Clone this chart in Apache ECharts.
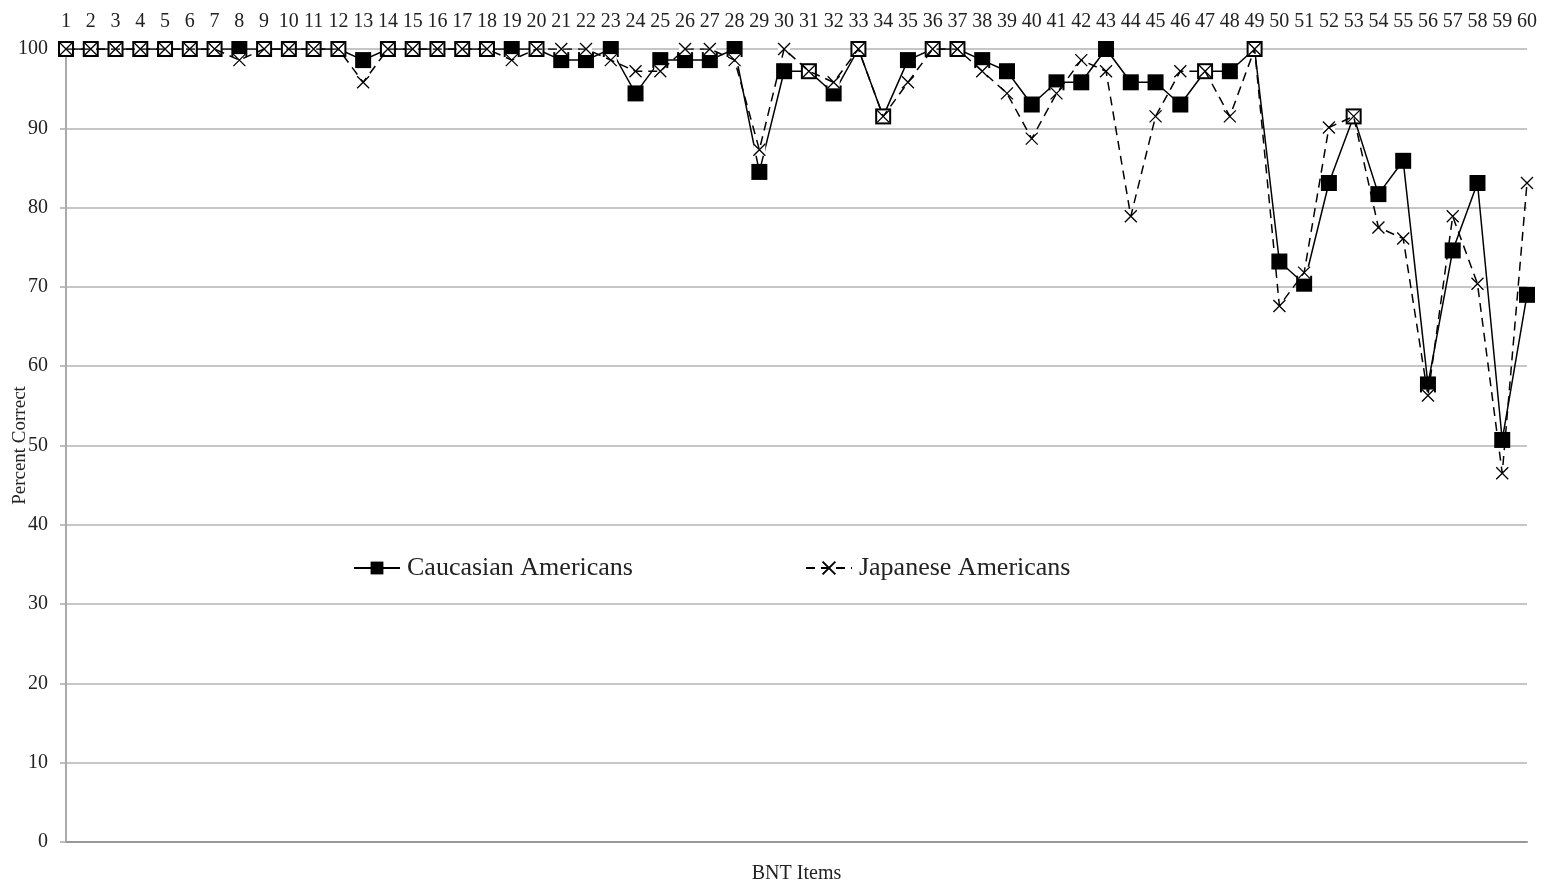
<!DOCTYPE html>
<html>
<head>
<meta charset="utf-8">
<title>BNT Items</title>
<script src="https://cdn.jsdelivr.net/npm/echarts@6/dist/echarts.min.js"></script>
<style>
  html, body { margin: 0; padding: 0; background: #fff; }
  #chart { width: 1550px; height: 888px; }
</style>
</head>
<body>
<div id="chart"></div>
<script>
// BNT items 1..60
const items = Array.from({ length: 60 }, (_, i) => String(i + 1));

// percent correct
const caucasian = [
  100, 100, 100, 100, 100, 100, 100, 100, 100, 100,
  100, 100, 98.6, 100, 100, 100, 100, 100, 100, 100,
  98.6, 98.6, 100, 94.4, 98.6, 98.6, 98.6, 100, 84.5, 97.2,
  97.2, 94.4, 100, 91.5, 98.6, 100, 100, 98.6, 97.2, 93.0,
  95.8, 95.8, 100, 95.8, 95.8, 93.0, 97.2, 97.2, 100, 73.2,
  70.4, 83.1, 91.5, 81.7, 85.9, 57.7, 74.6, 83.1, 50.7, 69.0
];
const japanese = [
  100, 100, 100, 100, 100, 100, 100, 98.6, 100, 100,
  100, 100, 95.8, 100, 100, 100, 100, 100, 98.6, 100,
  100, 100, 98.6, 97.2, 97.2, 100, 100, 98.6, 87.3, 100,
  97.2, 95.8, 100, 91.5, 95.8, 100, 100, 97.2, 94.4, 88.7,
  94.4, 98.6, 97.2, 78.9, 91.5, 97.2, 97.2, 91.5, 100, 67.6,
  71.8, 90.1, 91.5, 77.5, 76.1, 56.3, 78.9, 70.4, 46.5, 83.1
];

const FONT = 'Liberation Serif';
const crossPath = 'path://M0,0L10,10M10,0L0,10';

const myChart = echarts.init(document.getElementById('chart'));

const option = {
  backgroundColor: '#fff',
  animation: false,
  textStyle: { fontFamily: FONT, color: '#222' },
  grid: { left: 66, right: 23, top: 49, bottom: 46, containLabel: false, outerBoundsMode: 'none' },
  legend: {
    data: ['Caucasian Americans', 'Japanese Americans'],
    left: 348,
    top: 550,
    itemWidth: 46,
    itemHeight: 16,
    itemGap: 172,
    textStyle: { fontFamily: FONT, fontSize: 26, color: '#222', padding: [0, 0, 0, 2] }
  },
  xAxis: [
    {
      type: 'category',
      position: 'top',
      data: items,
      boundaryGap: false,
      axisLine: { show: false },
      axisTick: { show: false },
      axisLabel: { interval: 0, margin: 17, fontFamily: FONT, fontSize: 20, color: '#222' },
      splitLine: { show: false }
    },
    {
      type: 'category',
      position: 'bottom',
      data: items,
      boundaryGap: false,
      name: 'BNT Items',
      nameLocation: 'middle',
      nameGap: 22,
      nameMoveOverlap: false,
      nameTextStyle: { fontFamily: FONT, fontSize: 20, color: '#222' },
      axisLine: { show: true, lineStyle: { color: '#999', width: 2 } },
      axisTick: { show: false },
      axisLabel: { show: false },
      splitLine: { show: false }
    }
  ],
  yAxis: {
    type: 'value',
    min: 0,
    max: 100,
    interval: 10,
    name: 'Percent Correct',
    nameLocation: 'middle',
    nameGap: 36,
    nameMoveOverlap: false,
    nameTextStyle: { fontFamily: FONT, fontSize: 19, color: '#222' },
    axisLine: { show: true, lineStyle: { color: '#aaa', width: 2 } },
    axisTick: { show: true, length: 6, lineStyle: { color: '#aaa', width: 1.5 } },
    axisLabel: { margin: 18, fontFamily: FONT, fontSize: 20, color: '#222' },
    splitLine: { show: true, lineStyle: { color: '#b3b3b3', width: 1.5 } }
  },
  series: [
    {
      name: 'Caucasian Americans',
      type: 'line',
      data: caucasian,
      symbol: 'rect',
      symbolSize: 16,
      itemStyle: { color: '#000' },
      lineStyle: { color: '#000', width: 1.5 },
      z: 2
    },
    {
      // white backing under the X markers
      name: 'jp-bg',
      type: 'line',
      data: japanese,
      symbol: 'rect',
      symbolSize: 12,
      itemStyle: { color: '#fff' },
      lineStyle: { width: 0, opacity: 0 },
      z: 3
    },
    {
      name: 'Japanese Americans',
      type: 'line',
      data: japanese,
      symbol: crossPath,
      symbolSize: 12,
      itemStyle: { color: 'none', borderColor: '#000', borderWidth: 1.3 },
      lineStyle: { color: '#000', width: 1.5, type: [9, 6] },
      z: 4
    }
  ]
};

myChart.setOption(option);
</script>
</body>
</html>
